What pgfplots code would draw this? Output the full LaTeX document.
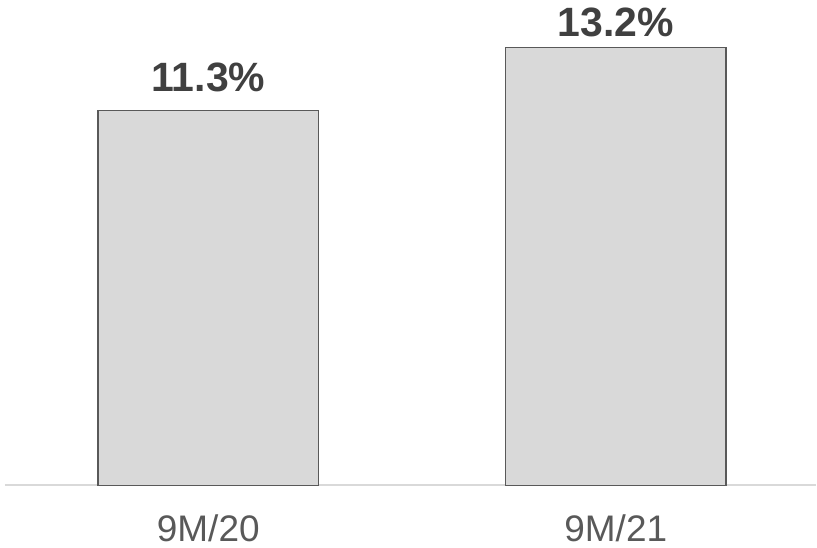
\documentclass[border=0pt]{standalone}
\usepackage{pgfplots}
\pgfplotsset{compat=1.18}
\usepackage{fontspec}
\setmainfont{Liberation Sans}
\definecolor{barfill}{HTML}{D9D9D9}
\definecolor{baredge}{HTML}{595959}
\definecolor{lbl}{HTML}{404040}
\definecolor{cat}{HTML}{595959}
\definecolor{base}{HTML}{D9D9D9}
\begin{document}
\begin{tikzpicture}
\begin{axis}[name=ax,
  scale only axis, width=812pt, height=486pt,
  xmin=-0.4988, xmax=1.4914, ymin=0, ymax=14.64,
  axis x line=bottom, axis y line=none,
  x axis line style={base, line width=2pt, -},
  xtick={0,1}, xticklabels={9M/20,9M/21},
  major tick length=0pt,
  xticklabel style={font=\fontsize{37}{40}\selectfont, text=cat, anchor=base, yshift=-55.7pt},
  ytick=\empty,
  clip=false,
  /pgf/number format/assume math mode=true,
  nodes near coords={\pgfmathprintnumber[fixed,fixed zerofill,precision=1,assume math mode=true]{\pgfplotspointmeta}\%},
  nodes near coords style={font=\fontsize{41}{44}\selectfont\bfseries, text=lbl, anchor=base, inner sep=0pt},
]
\addplot[ybar, bar width=221pt, fill=barfill, draw=baredge, line width=1.5pt, nodes near coords style={yshift=19pt}] coordinates {(0,11.3)};
\addplot[ybar, bar width=221pt, fill=barfill, draw=baredge, line width=1.5pt, nodes near coords style={yshift=11.5pt}] coordinates {(1,13.2)};
\end{axis}
\path (ax.south west) ++(-5pt,-62pt) rectangle (ax.north east);
\end{tikzpicture}
\end{document}
